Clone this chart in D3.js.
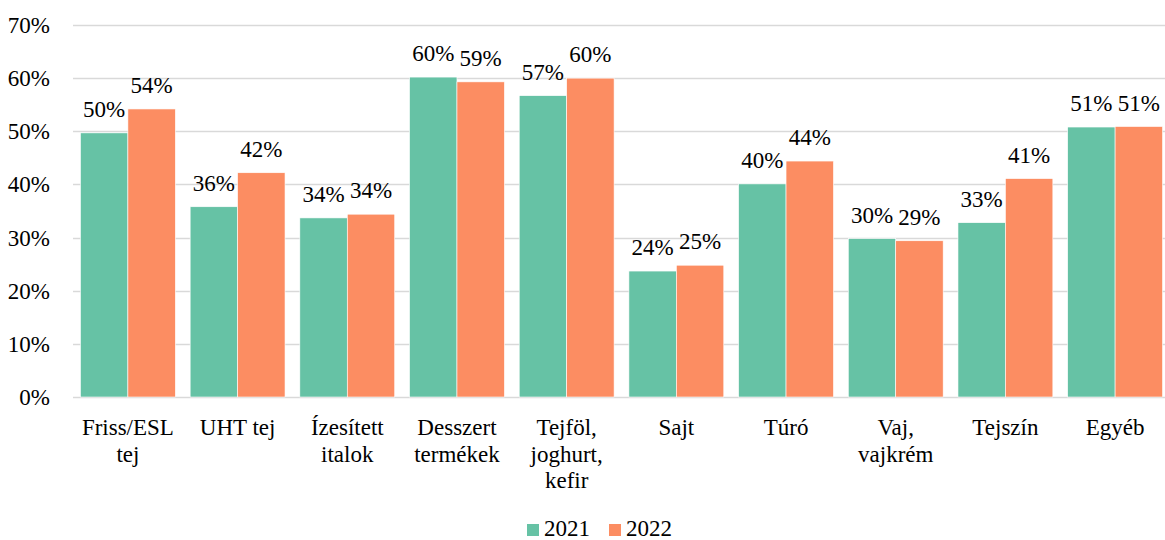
<!DOCTYPE html>
<html>
<head>
  <meta charset="utf-8">
  <title>Tejtermékek 2021-2022</title>
  <script src="https://d3js.org/d3.v7.min.js"></script>
</head>
<body style="margin:0">
  <script>
    // data
    var categories = [["Friss/ESL", "tej"], ["UHT tej"], ["Ízesített", "italok"], ["Desszert", "termékek"],
      ["Tejföl,", "joghurt,", "kefir"], ["Sajt"], ["Túró"], ["Vaj,", "vajkrém"], ["Tejszín"], ["Egyéb"]];
    var years = ["2021", "2022"];
    var values2021 = [49.7, 35.8, 33.7, 60.2, 56.7, 23.7, 40.1, 29.8, 32.8, 50.8];
    var values2022 = [54.2, 42.2, 34.4, 59.3, 60.0, 24.8, 44.4, 29.4, 41.1, 50.9];
    var yTicks = [0, 10, 20, 30, 40, 50, 60, 70];
    var colors = ["#66c2a5", "#fc8d62"];

    var width = 1165, height = 540;
    var margin = { top: 25, right: -5, bottom: 143, left: 73 };
    var font = "Liberation Serif";
    var fs = 23;

    var svg = d3.select("body").append("svg")
      .attr("width", width)
      .attr("height", height);

    var x = d3.scaleBand()
      .domain(d3.range(categories.length))
      .range([margin.left, width - margin.right])
      .paddingInner(0.135)
      .paddingOuter(0.068);

    var x1 = d3.scaleBand()
      .domain(years)
      .range([0, x.bandwidth()]);

    var y = d3.scaleLinear()
      .domain([0, 70])
      .range([height - margin.bottom, margin.top]);

    // gridlines
    svg.append("g")
      .selectAll("line")
      .data(yTicks)
      .enter()
      .append("line")
      .attr("x1", margin.left)
      .attr("x2", width)
      .attr("y1", function(d) { return Math.round(y(d)) + 0.5; })
      .attr("y2", function(d) { return Math.round(y(d)) + 0.5; })
      .attr("stroke", "#d9d9d9")
      .attr("stroke-width", 1.3);

    // y tick labels
    svg.selectAll("text.ytick")
      .data(yTicks)
      .enter()
      .append("text")
      .attr("class", "ytick")
      .attr("x", 50)
      .attr("y", function(d) { return y(d) + 8; })
      .attr("text-anchor", "end")
      .attr("font-size", fs)
      .style("font-family", font)
      .text(function(d) { return d + "%"; });

    var series = [values2021, values2022];

    series.forEach(function(vals, s) {
      svg.selectAll("rect.s" + s)
        .data(vals)
        .enter()
        .append("rect")
        .attr("class", "s" + s)
        .attr("x", function(d, i) { return x(i) + x1(years[s]); })
        .attr("width", x1.bandwidth())
        .attr("y", function(d) { return y(d); })
        .attr("height", function(d) { return y(0) - y(d); })
        .attr("fill", colors[s])
        .attr("stroke", "#fff")
        .attr("stroke-width", 0.6);

      svg.selectAll("text.v" + s)
        .data(vals)
        .enter()
        .append("text")
        .attr("class", "v" + s)
        .attr("x", function(d, i) { return x(i) + x1(years[s]) + x1.bandwidth() / 2; })
        .attr("y", function(d) { return y(d) - 16; })
        .attr("text-anchor", "middle")
        .attr("font-size", fs)
        .style("font-family", font)
        .text(function(d) { return Math.round(d) + "%"; });
    });

    // category labels, one text per line
    categories.forEach(function(lines, i) {
      svg.selectAll("text.c" + i)
        .data(lines)
        .enter()
        .append("text")
        .attr("class", "c" + i)
        .attr("x", x(i) + x.bandwidth() / 2)
        .attr("y", function(d, j) { return y(0) + 38 + j * 26.5; })
        .attr("text-anchor", "middle")
        .attr("font-size", fs)
        .style("font-family", font)
        .text(function(d) { return d; });
    });

    // legend
    var legendX = [527, 609];

    svg.selectAll("rect.leg")
      .data(years)
      .enter()
      .append("rect")
      .attr("class", "leg")
      .attr("x", function(d, i) { return legendX[i]; })
      .attr("y", 524)
      .attr("width", 12)
      .attr("height", 12)
      .attr("fill", function(d, i) { return colors[i]; });

    svg.selectAll("text.leg")
      .data(years)
      .enter()
      .append("text")
      .attr("class", "leg")
      .attr("x", function(d, i) { return legendX[i] + 17; })
      .attr("y", 536)
      .attr("font-size", fs)
      .style("font-family", font)
      .text(function(d) { return d; });
  </script>
</body>
</html>
